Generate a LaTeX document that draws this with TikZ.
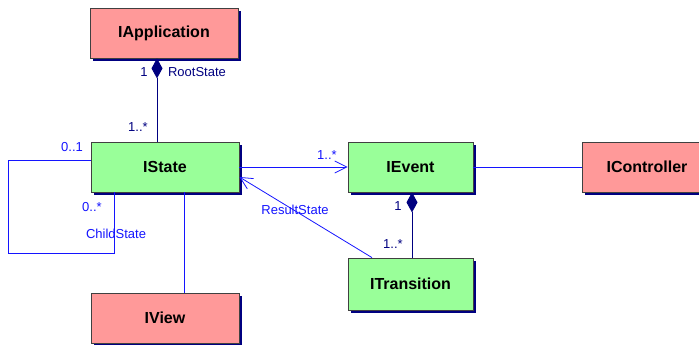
\documentclass[tikz,border=0pt]{standalone}
\usepackage{fontspec}
\setmainfont{Liberation Sans}
\usetikzlibrary{arrows.meta,shadows,calc}
\definecolor{navy}{RGB}{0,0,128}
\definecolor{pinkfill}{RGB}{255,153,153}
\definecolor{greenfill}{RGB}{153,255,153}
\definecolor{linkblue}{RGB}{20,20,255}
\tikzset{
  cls/.style={draw=black!75, line width=0.8pt, minimum height=50pt, font=\fontsize{16}{16}\selectfont\bfseries, inner sep=0pt,
    drop shadow={shadow xshift=3pt, shadow yshift=-3pt, fill=navy, opacity=1}},
  pinkbox/.style={cls, fill=pinkfill},
  greenbox/.style={cls, fill=greenfill},
  assoc/.style={draw=linkblue, line width=0.8pt},
  comp/.style={draw=navy, line width=0.8pt},
  lbl/.style={font=\fontsize{13}{13}\selectfont, text=linkblue, inner sep=0pt},
  nlbl/.style={font=\fontsize{13}{13}\selectfont, text=navy, inner sep=0pt},
  openarrow/.style={-{Straight Barb[length=12pt,width=12pt,line width=0.8pt]}},
  diamondtail/.style={{Diamond[length=20pt,width=11pt,fill=navy]}-}
}
\begin{document}
\begin{tikzpicture}[x=1pt,y=-1pt]
\useasboundingbox (0,0) rectangle (699,345);
\node[pinkbox, minimum width=148pt] (app) at (164,33) {IApplication};
\node[greenbox, minimum width=148pt] (state) at (165,167) {IState};
\node[greenbox, minimum width=125pt] (event) at (410.5,167) {IEvent};
\node[pinkbox, minimum width=130pt] (ctrl) at (647,167) {IController};
\node[greenbox, minimum width=125pt, minimum height=52pt] (trans) at (410.5,284) {ITransition};
\node[pinkbox, minimum width=148pt] (view) at (165,318) {IView};

% composition IApplication - IState
\draw[comp, diamondtail] (app.south -| 157,0) -- (state.north -| 157,0);
\node[nlbl] (l1) at (144,72) {1};
\node[nlbl] (l2) at (197,72) {RootState};
\node[nlbl] (l3) at (138,127) {1..*};

% IState -> IEvent
\draw[assoc, openarrow] (state.east) -- (event.west);
\node[lbl] (l4) at (327,155) {1..*};

% IEvent - IController
\draw[assoc] (event.east) -- (ctrl.west);

% composition IEvent - ITransition
\draw[comp, diamondtail] (event.south -| 412,0) -- (trans.north -| 412,0);
\node[nlbl] (l5) at (398,206) {1};
\node[nlbl] (l6) at (393,244) {1..*};

% ITransition -> IState (ResultState)
\draw[assoc, openarrow] (trans.north -| 372,0) -- (state.east |- 0,177);
\node[lbl] (l7) at (295,210) {ResultState};

% IState - IView
\draw[assoc] (state.south -| 184,0) -- (view.north -| 184,0);

% self loop ChildState
\coordinate (lpA) at (8,160);
\coordinate (lpB) at (114,253);
\draw[assoc] (state.west |- lpA) -- (lpA) |- (lpB) -- (state.south -| lpB);
\node[lbl] (l8) at (72,147) {0..1};
\node[lbl] (l9) at (92,207) {0..*};
\node[lbl] (l10) at (116,234) {ChildState};
\end{tikzpicture}
\end{document}
